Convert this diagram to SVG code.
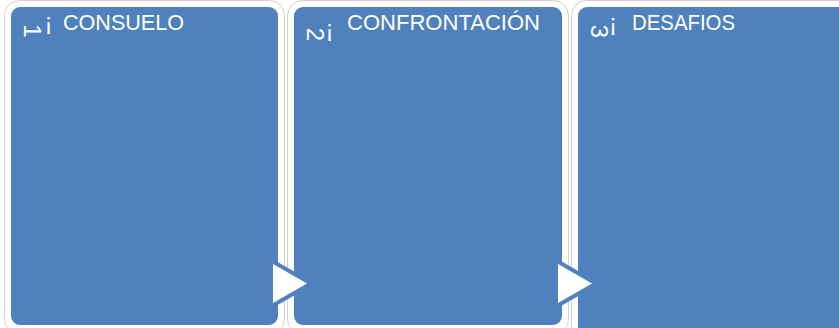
<svg xmlns="http://www.w3.org/2000/svg" width="839" height="328" viewBox="0 0 839 328">
  <style>
    .halo { fill: #ffffff; stroke: #d2d2d2; stroke-width: 1; }
    .box { fill: #4f81bd; stroke: #ffffff; stroke-width: 2; }
    .title { fill: #ffffff; font-family: "Liberation Sans", Arial, sans-serif; font-size: 21.5px; }
    .num { fill: #ffffff; font-family: "Liberation Sans", Arial, sans-serif; font-size: 24px; }
    .mark { fill: #ffffff; font-family: "Liberation Sans", Arial, sans-serif; font-size: 24px; }
    .arrow { fill: #ffffff; stroke: #4f81bd; stroke-width: 8; paint-order: stroke; stroke-linejoin: miter; }
  </style>
  <rect width="839" height="328" fill="#ffffff"/>

  <g id="node1">
    <rect class="halo" x="4.5" y="0.5" width="280" height="334" rx="15"/>
    <rect class="box" x="10" y="6" width="269" height="320" rx="10"/>
    <text class="num" transform="translate(24,31) rotate(90)" text-anchor="middle">1</text>
    <text class="mark" x="48.5" y="30" text-anchor="middle">¡</text>
    <text class="title" x="63" y="30" textLength="121" lengthAdjust="spacingAndGlyphs">CONSUELO</text>
  </g>

  <g id="node2">
    <rect class="halo" x="287.5" y="0.5" width="281" height="334" rx="15"/>
    <rect class="box" x="293" y="6" width="270" height="320" rx="10"/>
    <text class="num" transform="translate(307,34.5) rotate(90)" text-anchor="middle">2</text>
    <text class="mark" x="329.5" y="37" text-anchor="middle">¡</text>
    <text class="title" x="347" y="30" textLength="193" lengthAdjust="spacingAndGlyphs">CONFRONTACIÓN</text>
  </g>

  <g id="node3">
    <rect class="halo" x="571.5" y="0.5" width="300" height="340" rx="15"/>
    <rect class="box" x="577" y="6" width="290" height="330" rx="10"/>
    <text class="num" transform="translate(591,31.5) rotate(90)" text-anchor="middle">3</text>
    <text class="mark" x="613" y="31" text-anchor="middle">¡</text>
    <text class="title" x="632" y="30" textLength="103" lengthAdjust="spacingAndGlyphs">DESAFIOS</text>
  </g>

  <g id="connectors">
    <polygon class="arrow" points="273,264 307,283.5 273,303"/>
    <polygon class="arrow" points="558,264 592,283.5 558,303"/>
  </g>
</svg>
